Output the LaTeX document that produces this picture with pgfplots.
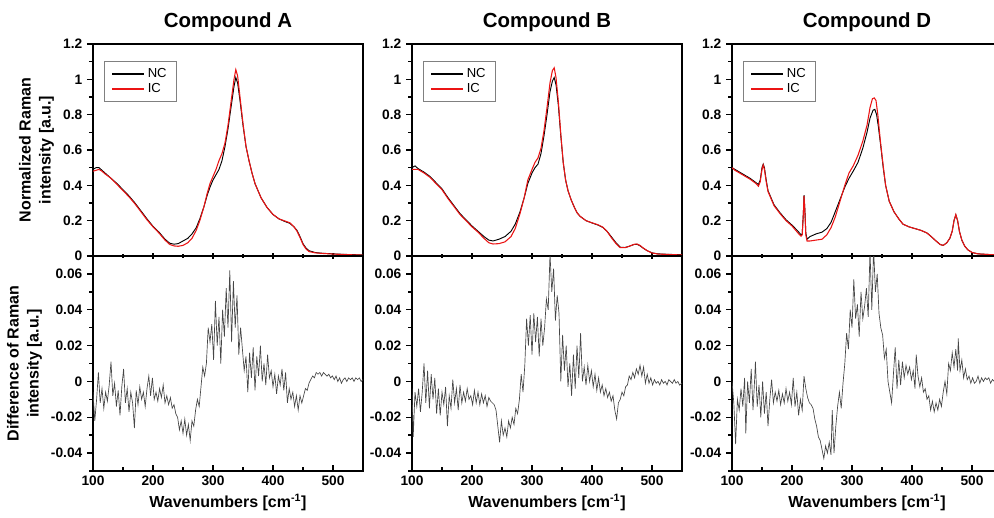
\documentclass[border=0pt]{standalone}
\usepackage{fontspec}
\setmainfont{Liberation Sans}
\usepackage{pgfplots}
\pgfplotsset{compat=1.18}
\definecolor{icred}{RGB}{235,20,20}
\definecolor{diffgray}{RGB}{70,70,70}

\pgfplotsset{
 base/.style={
  scale only axis, width=202.5pt, xmin=100, xmax=550,
  anchor=south west,
  /pgf/number format/assume math mode=true,
  tick label style={font=\bfseries\fontsize{10.3}{12}\selectfont},
  label style={font=\bfseries\fontsize{12}{15}\selectfont},
  axis line style={line width=1.1pt},
  every tick/.style={black, line width=1.1pt},
  major tick length=4.5pt, minor tick length=3pt,
  xtick={100,200,300,400,500}, minor xtick={150,250,350,450,550},
  ytick pos=left, xtick pos=left,
  ytick align=outside,
  scaled ticks=false,
 },
 top/.style={base, height=159pt, ymin=0, ymax=1.2,
   ytick={0,0.2,0.4,0.6,0.8,1,1.2}, minor ytick={0.1,0.3,0.5,0.7,0.9,1.1},
   xticklabels={}, xtick align=center,
   title style={font=\bfseries\fontsize{15.3}{18}\selectfont},
   legend style={at={(0.041,0.92)}, anchor=north west, draw=gray, line width=0.6pt,
     font=\fontsize{9.8}{10}\selectfont, inner xsep=5pt, inner ysep=3pt, row sep=-1pt},
   legend cell align=left,
   legend image code/.code={\draw[#1, line width=1.5pt] (0pt,0pt) -- (24pt,0pt);},
 },
 bot/.style={base, height=161.25pt, ymin=-0.05, ymax=0.07,
   ytick={-0.04,-0.02,0,0.02,0.04,0.06}, minor ytick={-0.05,-0.03,-0.01,0.01,0.03,0.05},
   xtick align=inside,
   yticklabel style={/pgf/number format/fixed, /pgf/number format/precision=2},
   xlabel={Wavenumbers [cm\textsuperscript{-1}]},
 },
 nc/.style={black, line width=0.7pt},
 ic/.style={icred, line width=0.8pt},
 df/.style={diffgray, line width=0.5pt},
}

\begin{document}
\begin{tikzpicture}
\useasboundingbox (0,0) rectangle (745.5pt,387.75pt);

% ---------------- Compound A top
\begin{axis}[top, at={(69.75pt,195.75pt)}, title={Compound A},
  ylabel={Normalized Raman\\intensity [a.u.]}, ylabel style={align=center}]
\addplot[nc] coordinates {(100,0.49)(105,0.50)(110,0.50)(115,0.485)(120,0.47)(130,0.44)(140,0.41)(150,0.375)(160,0.34)(170,0.30)(180,0.255)(190,0.21)(200,0.168)(210,0.135)(220,0.095)(228,0.072)(235,0.067)(242,0.070)(250,0.085)(258,0.100)(265,0.125)(272,0.16)(278,0.21)(285,0.28)(290,0.34)(295,0.39)(300,0.43)(305,0.46)(310,0.49)(315,0.54)(320,0.62)(325,0.72)(330,0.84)(335,0.96)(338,1.01)(341,0.98)(345,0.88)(350,0.74)(355,0.62)(360,0.54)(365,0.47)(370,0.41)(375,0.37)(380,0.33)(390,0.275)(400,0.235)(410,0.21)(420,0.195)(428,0.185)(435,0.165)(440,0.145)(445,0.11)(450,0.07)(455,0.045)(460,0.03)(470,0.02)(480,0.016)(500,0.012)(520,0.009)(550,0.006)};
\addlegendentry{NC}
\addplot[ic] coordinates {(100,0.48)(105,0.485)(110,0.49)(115,0.48)(120,0.465)(130,0.44)(140,0.405)(150,0.37)(160,0.335)(170,0.295)(180,0.25)(190,0.205)(200,0.165)(210,0.13)(220,0.09)(228,0.065)(235,0.057)(242,0.055)(250,0.06)(258,0.075)(265,0.10)(272,0.145)(278,0.20)(285,0.28)(290,0.35)(295,0.41)(300,0.45)(305,0.49)(310,0.54)(315,0.58)(320,0.64)(325,0.74)(330,0.87)(335,1.00)(338,1.055)(341,1.02)(345,0.90)(350,0.75)(355,0.62)(360,0.54)(365,0.47)(370,0.41)(375,0.37)(380,0.33)(390,0.275)(400,0.235)(410,0.21)(420,0.198)(428,0.188)(435,0.165)(440,0.14)(445,0.105)(450,0.065)(455,0.04)(460,0.025)(470,0.018)(480,0.015)(500,0.011)(520,0.008)(550,0.005)};
\addlegendentry{IC}
\end{axis}

% ---------------- Compound A bottom
\begin{axis}[bot, at={(69.75pt,34.5pt)},
  ylabel={Difference of Raman\\intensity [a.u.]}, ylabel style={align=center}]
\addplot[df] coordinates {(100,-0.006)(103,-0.022)(106,-0.010)(109,0.005)(112,-0.012)(115,-0.004)(118,-0.015)(121,-0.006)(124,-0.011)(127,-0.002)(130,0.011)(133,-0.008)(136,-0.001)(139,-0.014)(142,-0.005)(145,-0.019)(148,-0.003)(151,0.007)(154,-0.012)(157,-0.004)(160,-0.017)(163,-0.006)(166,-0.012)(169,-0.026)(172,-0.005)(175,-0.013)(178,-0.003)(181,-0.010)(184,-0.006)(187,-0.014)(190,-0.004)(193,0.003)(196,-0.008)(199,0.002)(202,-0.010)(205,-0.006)(208,-0.011)(211,-0.004)(214,-0.009)(217,-0.002)(220,-0.012)(223,-0.008)(226,-0.013)(229,-0.009)(232,-0.015)(235,-0.013)(238,-0.018)(241,-0.020)(244,-0.027)(247,-0.022)(250,-0.029)(253,-0.021)(256,-0.030)(259,-0.024)(262,-0.033)(265,-0.022)(268,-0.025)(271,-0.016)(274,-0.010)(277,-0.014)(280,-0.003)(283,0.008)(286,0.003)(289,0.010)(292,0.030)(295,0.022)(298,0.032)(301,0.012)(304,0.045)(307,0.020)(310,0.036)(313,0.010)(316,0.040)(319,0.025)(322,0.052)(325,0.030)(328,0.062)(331,0.022)(334,0.056)(337,0.030)(340,0.048)(343,0.015)(346,0.030)(349,0.018)(352,0.006)(355,0.014)(358,-0.006)(361,0.016)(364,0.002)(367,0.019)(370,-0.005)(373,0.014)(376,0.003)(379,0.020)(382,0.000)(385,0.010)(388,-0.002)(391,0.015)(394,0.002)(397,0.006)(400,-0.003)(403,0.004)(406,-0.007)(409,0.003)(412,-0.002)(415,0.007)(418,-0.005)(421,0.005)(424,-0.012)(427,-0.004)(430,-0.010)(433,-0.006)(436,-0.014)(439,-0.008)(442,-0.016)(445,-0.008)(448,-0.012)(451,-0.008)(454,-0.004)(457,-0.005)(460,-0.001)(463,0.001)(466,0.003)(469,0.002)(472,0.005)(475,0.004)(478,0.005)(481,0.003)(484,0.005)(487,0.004)(490,0.003)(493,0.004)(496,0.002)(499,0.003)(502,0.001)(505,0.003)(508,0.000)(511,0.002)(514,-0.001)(517,0.001)(520,0.002)(523,0.000)(526,0.002)(529,0.001)(532,0.002)(535,0.000)(538,0.002)(541,0.001)(544,0.002)(547,0.000)(550,0.001)};
\end{axis}

% ---------------- Compound B top
\begin{axis}[top, at={(309pt,195.75pt)}, title={Compound B}]
\addplot[nc] coordinates {(100,0.50)(105,0.51)(110,0.495)(120,0.475)(130,0.45)(140,0.415)(150,0.38)(160,0.33)(170,0.285)(180,0.24)(190,0.205)(200,0.17)(210,0.14)(220,0.11)(228,0.09)(235,0.085)(245,0.095)(255,0.11)(265,0.14)(272,0.18)(280,0.25)(287,0.33)(293,0.41)(300,0.47)(305,0.50)(310,0.52)(315,0.58)(320,0.68)(325,0.80)(330,0.93)(334,0.99)(337,1.01)(340,0.97)(344,0.85)(348,0.68)(352,0.53)(356,0.43)(360,0.37)(365,0.32)(370,0.28)(375,0.245)(380,0.225)(390,0.20)(400,0.187)(410,0.175)(418,0.162)(425,0.14)(432,0.11)(440,0.075)(447,0.05)(455,0.048)(462,0.055)(470,0.065)(475,0.066)(480,0.058)(485,0.045)(492,0.03)(500,0.018)(510,0.012)(530,0.009)(550,0.007)};
\addlegendentry{NC}
\addplot[ic] coordinates {(100,0.49)(105,0.49)(110,0.49)(120,0.47)(130,0.445)(140,0.41)(150,0.375)(160,0.325)(170,0.28)(180,0.235)(190,0.2)(200,0.165)(210,0.135)(220,0.1)(228,0.075)(235,0.068)(245,0.07)(255,0.08)(265,0.11)(272,0.155)(280,0.24)(287,0.33)(293,0.43)(300,0.49)(305,0.53)(310,0.555)(315,0.61)(320,0.71)(325,0.84)(330,0.98)(334,1.05)(337,1.065)(340,1.01)(344,0.87)(348,0.69)(352,0.53)(356,0.43)(360,0.37)(365,0.32)(370,0.28)(375,0.245)(380,0.225)(390,0.20)(400,0.188)(410,0.177)(418,0.163)(425,0.14)(432,0.105)(440,0.07)(447,0.047)(455,0.047)(462,0.055)(470,0.066)(475,0.068)(480,0.06)(485,0.046)(492,0.03)(500,0.017)(510,0.011)(530,0.008)(550,0.006)};
\addlegendentry{IC}
\end{axis}

% ---------------- Compound B bottom
\begin{axis}[bot, at={(309pt,34.5pt)}]
\addplot[df] coordinates {(100,-0.004)(102,-0.031)(105,-0.006)(108,-0.014)(111,-0.004)(114,-0.017)(117,-0.006)(120,0.010)(123,-0.012)(126,0.006)(129,-0.015)(132,0.004)(135,-0.010)(138,0.002)(141,-0.018)(144,-0.004)(147,-0.019)(150,-0.006)(153,-0.013)(156,-0.003)(159,-0.025)(162,-0.008)(165,-0.015)(168,0.001)(171,-0.012)(174,-0.004)(177,-0.016)(180,-0.002)(183,-0.012)(186,-0.006)(189,-0.011)(192,-0.004)(195,-0.010)(198,-0.008)(201,-0.013)(204,-0.005)(207,-0.012)(210,-0.006)(213,-0.013)(216,-0.007)(219,-0.012)(222,-0.008)(225,-0.014)(228,-0.009)(231,-0.011)(234,-0.012)(237,-0.013)(240,-0.016)(243,-0.025)(246,-0.034)(249,-0.022)(252,-0.030)(255,-0.026)(258,-0.031)(261,-0.022)(264,-0.026)(267,-0.020)(270,-0.024)(273,-0.015)(276,-0.018)(279,-0.010)(282,0.004)(285,-0.006)(288,0.009)(291,0.035)(294,0.020)(297,0.037)(300,0.015)(303,0.038)(306,0.022)(309,0.036)(312,0.014)(315,0.035)(318,0.020)(321,0.030)(324,0.046)(327,0.040)(330,0.071)(333,0.050)(336,0.063)(339,0.034)(342,0.048)(345,0.038)(348,0.000)(351,0.026)(354,0.006)(357,0.020)(360,-0.003)(363,0.010)(366,-0.008)(369,0.015)(372,-0.004)(375,0.020)(378,0.002)(381,0.027)(384,0.000)(387,0.008)(390,-0.002)(393,0.009)(396,0.000)(399,0.006)(402,-0.003)(405,0.004)(408,-0.005)(411,0.002)(414,-0.006)(417,-0.002)(420,-0.008)(423,-0.004)(426,-0.009)(429,-0.006)(432,-0.011)(435,-0.008)(438,-0.016)(441,-0.021)(444,-0.012)(447,-0.010)(450,-0.006)(453,-0.008)(456,-0.003)(459,-0.002)(462,0.003)(465,0.001)(468,0.005)(471,0.002)(474,0.007)(477,0.004)(480,0.009)(483,0.003)(486,0.008)(489,-0.001)(492,0.004)(495,-0.001)(498,0.002)(501,-0.002)(504,0.001)(507,-0.001)(510,0.000)(513,-0.002)(516,0.001)(519,-0.001)(522,0.000)(525,-0.002)(528,0.001)(531,0.000)(534,-0.001)(537,0.001)(540,-0.001)(543,0.000)(546,-0.002)(550,-0.001)};
\end{axis}

% ---------------- Compound D top
\begin{axis}[top, at={(549pt,195.75pt)}, title={Compound D}]
\addplot[nc] coordinates {(100,0.50)(105,0.49)(110,0.48)(120,0.46)(130,0.44)(140,0.415)(144,0.405)(147,0.43)(150,0.50)(152,0.52)(154,0.50)(157,0.43)(160,0.37)(165,0.33)(170,0.29)(180,0.245)(190,0.205)(200,0.175)(210,0.14)(215,0.12)(217,0.125)(219,0.25)(220,0.345)(221.5,0.26)(223,0.13)(225,0.095)(230,0.11)(240,0.125)(250,0.135)(258,0.155)(265,0.19)(272,0.25)(280,0.32)(288,0.39)(295,0.44)(302,0.48)(310,0.53)(318,0.61)(325,0.70)(330,0.78)(335,0.825)(338,0.83)(341,0.80)(344,0.73)(348,0.62)(352,0.50)(356,0.40)(362,0.31)(370,0.25)(378,0.21)(385,0.18)(395,0.165)(405,0.155)(415,0.145)(425,0.13)(432,0.11)(440,0.085)(447,0.065)(452,0.06)(458,0.075)(463,0.10)(467,0.14)(470,0.20)(473,0.232)(476,0.20)(479,0.14)(483,0.09)(488,0.055)(493,0.035)(500,0.02)(510,0.012)(530,0.008)(550,0.006)};
\addlegendentry{NC}
\addplot[ic] coordinates {(100,0.50)(105,0.485)(110,0.475)(120,0.455)(130,0.435)(140,0.41)(144,0.395)(147,0.42)(150,0.49)(152,0.515)(154,0.49)(157,0.42)(160,0.365)(165,0.325)(170,0.285)(180,0.24)(190,0.2)(200,0.17)(210,0.13)(215,0.112)(217,0.12)(219,0.24)(220,0.34)(221.5,0.25)(223,0.12)(225,0.085)(230,0.085)(240,0.09)(250,0.095)(258,0.12)(265,0.16)(272,0.22)(280,0.31)(288,0.40)(295,0.47)(302,0.51)(310,0.57)(318,0.65)(325,0.74)(330,0.84)(334,0.89)(337,0.895)(340,0.88)(343,0.80)(347,0.66)(352,0.51)(356,0.40)(362,0.31)(370,0.25)(378,0.21)(385,0.18)(395,0.165)(405,0.155)(415,0.145)(425,0.13)(432,0.11)(440,0.085)(447,0.065)(452,0.06)(458,0.075)(463,0.10)(467,0.14)(470,0.20)(473,0.235)(476,0.20)(479,0.14)(483,0.09)(488,0.055)(493,0.035)(500,0.02)(510,0.012)(530,0.008)(550,0.006)};
\addlegendentry{IC}
\end{axis}

% ---------------- Compound D bottom
\begin{axis}[bot, at={(549pt,34.5pt)}]
\addplot[df] coordinates {(100,0.000)(103,-0.012)(106,-0.035)(109,-0.010)(112,-0.016)(115,-0.004)(118,-0.014)(121,0.002)(123,-0.029)(126,0.000)(129,-0.012)(132,0.007)(135,-0.016)(138,0.003)(139,0.011)(142,-0.014)(145,-0.002)(148,-0.020)(151,0.000)(154,-0.018)(157,-0.006)(160,-0.025)(163,-0.010)(166,0.001)(169,-0.012)(172,-0.006)(175,-0.011)(178,-0.005)(181,-0.013)(184,-0.007)(187,-0.012)(190,-0.004)(193,-0.011)(196,-0.006)(199,-0.013)(202,0.002)(205,-0.014)(208,-0.006)(211,-0.019)(214,-0.010)(217,-0.016)(220,0.003)(223,-0.004)(226,-0.009)(229,-0.012)(232,-0.013)(235,-0.015)(238,-0.021)(241,-0.025)(244,-0.031)(247,-0.033)(250,-0.038)(253,-0.043)(256,-0.036)(259,-0.040)(262,-0.034)(265,-0.041)(267,-0.016)(270,-0.040)(273,-0.025)(276,-0.014)(279,-0.006)(282,-0.015)(285,-0.001)(288,0.010)(291,0.027)(294,0.018)(297,0.040)(300,0.030)(303,0.057)(306,0.035)(309,0.043)(312,0.025)(315,0.050)(318,0.035)(321,0.042)(324,0.052)(327,0.036)(330,0.073)(333,0.040)(336,0.074)(339,0.050)(342,0.060)(345,0.038)(348,0.030)(351,0.026)(354,0.013)(357,0.018)(360,0.000)(363,-0.006)(366,-0.012)(369,0.004)(372,0.019)(375,-0.004)(378,0.012)(381,-0.002)(384,0.011)(387,0.002)(390,0.009)(393,0.004)(396,0.008)(399,0.001)(402,0.006)(405,-0.004)(407,0.015)(410,0.003)(413,-0.003)(416,0.002)(419,-0.006)(422,-0.004)(425,-0.010)(428,-0.008)(431,-0.016)(434,-0.011)(437,-0.017)(440,-0.012)(443,-0.016)(446,-0.010)(449,-0.014)(452,-0.006)(455,0.000)(458,-0.007)(461,0.010)(464,0.006)(467,0.016)(470,0.008)(473,0.018)(476,0.006)(477,0.024)(480,0.006)(483,0.012)(486,0.002)(489,0.007)(492,0.001)(495,0.003)(498,-0.001)(501,0.002)(504,-0.001)(507,0.000)(510,0.003)(513,-0.001)(516,0.002)(519,0.000)(522,0.002)(525,0.001)(528,0.002)(531,-0.001)(534,0.001)(537,0.000)(540,0.002)(550,0.001)};
\end{axis}
\end{tikzpicture}
\end{document}
